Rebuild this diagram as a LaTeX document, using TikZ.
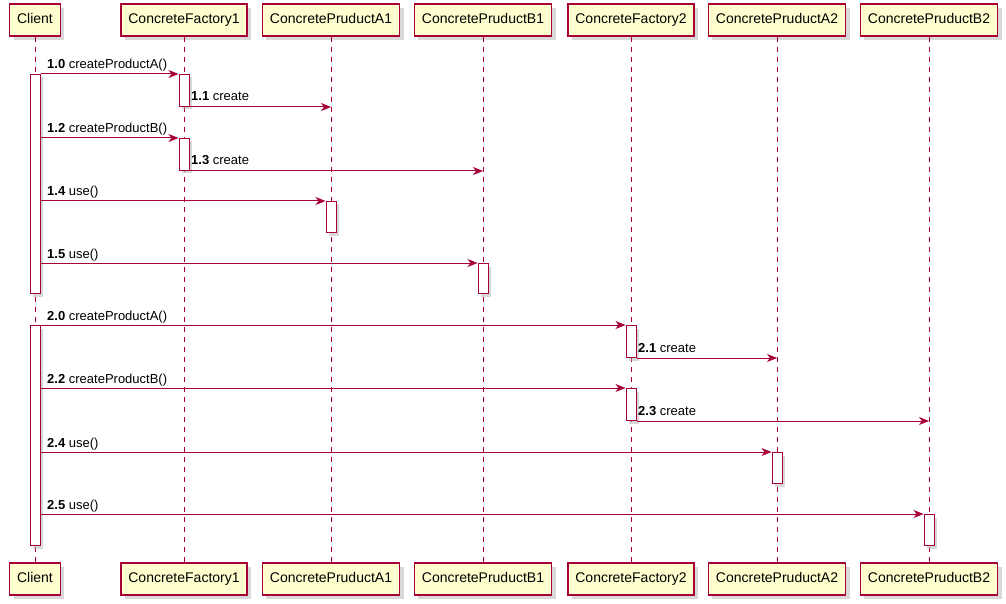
\documentclass[tikz,border=0pt]{standalone}
\usepackage{fontspec}
\setmainfont{Liberation Sans}
\usetikzlibrary{arrows.meta,shadows}
\definecolor{umlred}{HTML}{A80036}
\definecolor{umlfill}{HTML}{FEFECE}
\begin{document}
\begin{tikzpicture}[x=1pt,y=-1pt,
  part/.style={draw=umlred,line width=1.5pt,fill=umlfill,minimum height=32pt,inner xsep=7.5pt,
    text height=10pt,text depth=3pt,
    font=\fontsize{14}{16}\selectfont,drop shadow={shadow xshift=4pt,shadow yshift=-4pt,fill=black!30}},
  act/.style={draw=umlred,line width=1pt,fill=white,minimum width=10pt,inner sep=0pt,anchor=north,
    drop shadow={shadow xshift=3pt,shadow yshift=-3pt,fill=black!30}},
  life/.style={draw=umlred,line width=1pt,dash pattern=on 5pt off 5pt},
  msg/.style={draw=umlred,line width=1pt,-{Stealth[length=10pt,width=8pt,inset=3pt]}},
  lbl/.style={anchor=base west,inner sep=0pt,font=\fontsize{13}{15}\selectfont}]
\useasboundingbox (0,0) rectangle (1006,604);
\node[part] (client) at (35,20) {Client};
\node[part] (cf1) at (184,20) {ConcreteFactory1};
\node[part] (pa1) at (331,20) {ConcretePruductA1};
\node[part] (pb1) at (483,20) {ConcretePruductB1};
\node[part] (cf2) at (631,20) {ConcreteFactory2};
\node[part] (pa2) at (777,20) {ConcretePruductA2};
\node[part] (pb2) at (929,20) {ConcretePruductB2};
\node[part] (clientB) at (35,579) {Client};
\node[part] (cf1B) at (184,579) {ConcreteFactory1};
\node[part] (pa1B) at (331,579) {ConcretePruductA1};
\node[part] (pb1B) at (483,579) {ConcretePruductB1};
\node[part] (cf2B) at (631,579) {ConcreteFactory2};
\node[part] (pa2B) at (777,579) {ConcretePruductA2};
\node[part] (pb2B) at (929,579) {ConcretePruductB2};
\draw [life] (client) -- (clientB);
\draw [life] (cf1) -- (cf1B);
\draw [life] (pa1) -- (pa1B);
\draw [life] (pb1) -- (pb1B);
\draw [life] (cf2) -- (cf2B);
\draw [life] (pa2) -- (pa2B);
\draw [life] (pb2) -- (pb2B);
\node[act,minimum height=219pt] (a0) at (35,74) {};
\node[act,minimum height=32pt] (a1) at (184,74) {};
\node[act,minimum height=32pt] (a2) at (184,138) {};
\node[act,minimum height=31pt] (a3) at (331,201) {};
\node[act,minimum height=30pt] (a4) at (483,263) {};
\node[act,minimum height=220pt] (a5) at (35,325) {};
\node[act,minimum height=32pt] (a6) at (631,325) {};
\node[act,minimum height=32pt] (a7) at (631,388) {};
\node[act,minimum height=31pt] (a8) at (777,452) {};
\node[act,minimum height=31pt] (a9) at (929,514) {};
\draw [msg] (a0.east |- a1.north) -- (a1.north west);
\draw [msg] (a1.south east) -- (a1.south east -| pa1);
\draw [msg] (a0.east |- a2.north) -- (a2.north west);
\draw [msg] (a2.south east) -- (a2.south east -| pb1);
\draw [msg] (a0.east |- a3.north) -- (a3.north west);
\draw [msg] (a0.east |- a4.north) -- (a4.north west);
\draw [msg] (a5.east |- a6.north) -- (a6.north west);
\draw [msg] (a6.south east) -- (a6.south east -| pa2);
\draw [msg] (a5.east |- a7.north) -- (a7.north west);
\draw [msg] (a7.south east) -- (a7.south east -| pb2);
\draw [msg] (a5.east |- a8.north) -- (a8.north west);
\draw [msg] (a5.east |- a9.north) -- (a9.north west);
\node[lbl] (m0) at (47,69) {\textbf{1.0} createProductA()};
\node[lbl] (m1) at (191,101) {\textbf{1.1} create};
\node[lbl] (m2) at (47,133) {\textbf{1.2} createProductB()};
\node[lbl] (m3) at (191,165) {\textbf{1.3} create};
\node[lbl] (m4) at (47,196) {\textbf{1.4} use()};
\node[lbl] (m5) at (47,258) {\textbf{1.5} use()};
\node[lbl] (m6) at (47,320) {\textbf{2.0} createProductA()};
\node[lbl] (m7) at (638,352) {\textbf{2.1} create};
\node[lbl] (m8) at (47,383) {\textbf{2.2} createProductB()};
\node[lbl] (m9) at (638,415) {\textbf{2.3} create};
\node[lbl] (m10) at (47,447) {\textbf{2.4} use()};
\node[lbl] (m11) at (47,509) {\textbf{2.5} use()};
\end{tikzpicture}
\end{document}
